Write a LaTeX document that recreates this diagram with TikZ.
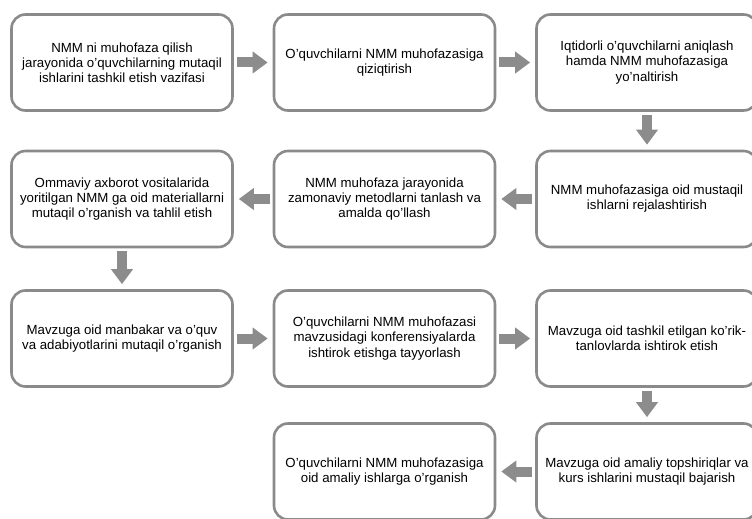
\documentclass[tikz,border=0pt]{standalone}
\usepackage{fontspec}
\setmainfont{Liberation Sans}
\usetikzlibrary{arrows.meta}

\definecolor{boxgray}{RGB}{138,138,138}
\definecolor{arrgray}{RGB}{140,140,140}

\tikzset{
	stepbox/.style={draw=boxgray, line width=2.6bp, rounded corners=14bp, fill=white,
		minimum width=221bp, minimum height=96bp, align=center, inner sep=0pt,
		font=\fontsize{13.3}{15.2}\selectfont},
	blockarrow/.style={draw=arrgray, line width=10bp,
		-{Triangle[length=15bp,width=21bp]}, shorten <=3bp, shorten >=5bp}
}

\begin{document}
\begin{tikzpicture}[x=1bp,y=-1bp]
	\useasboundingbox (0,0) rectangle (752,519);
	\clip (0,0) rectangle (752,519);
	
	%ROW 1
	\node[stepbox] (vazifa) at (122,62.5) {NMM ni muhofaza qilish\\jarayonida o'quvchilarning mutaqil\\ishlarini tashkil etish vazifasi};
	\node[stepbox] (qiziq) at (384.5,62.5) {O'quvchilarni NMM muhofazasiga\\qiziqtirish};
	\node[stepbox] (iqtidor) at (647,62.5) {Iqtidorli o'quvchilarni aniqlash\\hamda NMM muhofazasiga\\yo'naltirish};
	
	%ROW 2
	\node[stepbox] (reja) at (647,199) {NMM muhofazasiga oid mustaqil\\ishlarni rejalashtirish};
	\node[stepbox] (metod) at (384.5,199) {NMM muhofaza jarayonida\\zamonaviy metodlarni tanlash va\\amalda qo'llash};
	\node[stepbox] (ommaviy) at (122,199) {Ommaviy axborot vositalarida\\yoritilgan NMM ga oid materiallarni\\mutaqil o'rganish va tahlil etish};
	
	%ROW 3
	\node[stepbox] (manba) at (122,338.5) {Mavzuga oid manbakar va o'quv\\va adabiyotlarini mutaqil o'rganish};
	\node[stepbox] (konfer) at (384.5,338.5) {O'quvchilarni NMM muhofazasi\\mavzusidagi konferensiyalarda\\ishtirok etishga tayyorlash};
	\node[stepbox] (korik) at (647,338.5) {Mavzuga oid tashkil etilgan ko'rik-\\tanlovlarda ishtirok etish};
	
	%ROW 4
	\node[stepbox] (amaliy) at (647,471.5) {Mavzuga oid amaliy topshiriqlar va\\kurs ishlarini mustaqil bajarish};
	\node[stepbox] (ishlar) at (384.5,471.5) {O'quvchilarni NMM muhofazasiga\\oid amaliy ishlarga o'rganish};
	
	%ARROWS
	\foreach \a/\b in {vazifa/qiziq, qiziq/iqtidor, reja/metod, metod/ommaviy,
		manba/konfer, konfer/korik, amaliy/ishlar}{	%horizontal
		\draw[blockarrow] (\a) -- (\b);
	}
	\foreach \a/\b in {iqtidor/reja, ommaviy/manba, korik/amaliy}{	%vertical
		\draw[blockarrow] (\a) -- (\b);
	}
\end{tikzpicture}
\end{document}
